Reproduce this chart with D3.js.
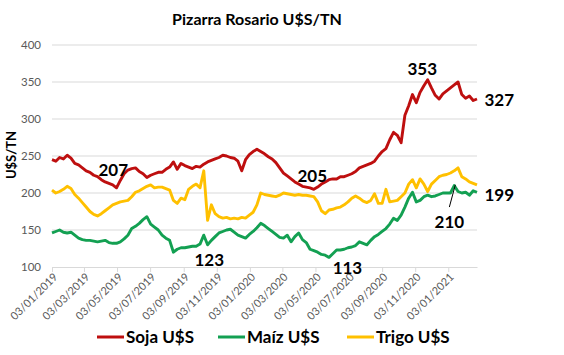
<!DOCTYPE html>
<html>
<head>
<meta charset="utf-8">
<script src="https://cdn.jsdelivr.net/npm/d3@7"></script>
<style>
  html, body { margin: 0; padding: 0; background: #fff; }
  svg { display: block; }
</style>
</head>
<body>
<svg id="chart" width="564" height="355"></svg>
<script>
// ---- data ----
const title = "Pizarra Rosario U$S/TN";
const yTitle = "U$S/TN";
const startDate = "2019-01-03";   // weekly observations
const endDate = "2021-02-25";
const xTickDates = ["2019-01-03","2019-03-03","2019-05-03","2019-07-03","2019-09-03","2019-11-03",
  "2020-01-03","2020-03-03","2020-05-03","2020-07-03","2020-09-03","2020-11-03","2021-01-03"];
const yTicks = [100, 150, 200, 250, 300, 350, 400];
const seriesNames = ["Soja U$S", "Maíz U$S", "Trigo U$S"];
const seriesColors = ["#BE0F0F", "#13A052", "#FFC000"];

const soja = [245,243,248,246,251,247,240,238,234,230,228,224,222,218,215,213,211,207,217,226,
  231,233,234,229,226,221,224,226,228,228,232,235,242,232,240,237,235,233,236,235,
  239,242,244,246,248,251,250,248,247,243,230,245,252,256,259,256,253,249,246,241,
  234,227,223,219,215,212,209,208,207,205,208,212,215,218,219,219,222,222,224,226,
  229,234,236,238,240,243,250,256,260,272,282,278,268,305,318,333,322,336,345,353,
  342,332,327,334,338,342,346,350,333,328,331,325,327];
const maiz = [146,148,150,147,146,147,143,139,137,136,136,135,134,135,136,133,132,132,134,138,
  143,152,155,159,164,168,158,154,150,143,139,136,120,124,126,126,127,128,128,131,
  143,130,136,141,146,148,150,151,147,143,141,139,144,148,153,159,156,152,148,144,
  140,139,143,134,141,146,137,133,124,122,120,117,116,113,118,123,123,124,126,127,
  129,134,132,130,136,141,144,148,152,158,166,163,170,181,193,201,188,190,195,197,
  195,196,198,200,200,200,210,202,200,201,197,203,201];
const trigo = [204,200,202,205,209,206,198,193,187,181,175,171,169,172,176,180,184,186,188,189,
  190,195,201,203,206,209,211,207,208,208,206,204,190,186,193,191,205,209,212,207,
  230,163,184,172,168,166,167,165,166,165,167,166,170,174,184,200,198,197,196,195,
  197,200,199,198,197,198,197,197,196,195,188,176,172,177,178,180,181,184,188,193,
  196,193,189,187,190,199,186,186,205,188,189,190,195,200,212,218,207,219,212,202,
  212,217,222,224,225,227,230,234,222,219,215,213,211];
const seriesValues = [soja, maiz, trigo];

// annotation labels (text, date, value at label centre)
const annotations = [
  { text: "207", date: "2019-04-26", value: 231 },
  { text: "123", date: "2019-10-20", value: 109.5 },
  { text: "205", date: "2020-04-27", value: 223 },
  { text: "113", date: "2020-07-01", value: 98.6 },
  { text: "353", date: "2020-11-16", value: 367.6 },
  { text: "327", date: "2021-04-07", value: 325.7 },
  { text: "199", date: "2021-04-07", value: 197.3 },
  { text: "210", date: "2021-01-05", value: 160.8 }
];
const leader = [{ date: "2021-01-05", value: 181 }, { date: "2021-01-16", value: 211 }];

// ---- chart ----
const parse = d3.timeParse("%Y-%m-%d");
const fmt = d3.timeFormat("%d/%m/%Y");
const start = parse(startDate);
const dates = d3.range(soja.length).map(i => d3.timeDay.offset(start, 7 * i));

const svg = d3.select("#chart");
const font = "Lato, 'Open Sans', sans-serif";

const x = d3.scaleTime().domain([start, parse(endDate)]).range([52, 477]);
const y = d3.scaleLinear().domain([100, 400]).range([267, 45]);

// title
svg.append("text")
  .attr("x", 257).attr("y", 25)
  .attr("text-anchor", "middle")
  .style("font-family", font).style("font-weight", "bold").style("font-size", "16px")
  .attr("fill", "#000")
  .text(title);

// gridlines
svg.append("g")
  .selectAll("line")
  .data(yTicks.filter(t => t > 100))
  .join("line")
  .attr("x1", x.range()[0]).attr("x2", x.range()[1])
  .attr("y1", d => y(d)).attr("y2", d => y(d))
  .attr("stroke", "#D9D9D9").attr("stroke-width", 1);

// y axis
const yAxis = svg.append("g")
  .attr("transform", `translate(${x.range()[0]},0)`)
  .call(d3.axisLeft(y).tickValues(yTicks).tickSize(0).tickPadding(11));
yAxis.select(".domain").remove();
yAxis.selectAll("text")
  .style("font-family", font).style("font-size", "11.5px").attr("fill", "#595959");

// y title
svg.append("text")
  .attr("transform", `translate(16,155) rotate(-90)`)
  .attr("text-anchor", "middle")
  .style("font-family", font).style("font-weight", "bold").style("font-size", "13px")
  .attr("fill", "#000")
  .text(yTitle);

// x axis
const xAxis = svg.append("g")
  .attr("transform", `translate(0,${y(100)})`)
  .call(d3.axisBottom(x).tickValues(xTickDates.map(parse)).tickFormat(fmt).tickSize(5).tickSizeOuter(0));
xAxis.select(".domain").attr("stroke", "#D9D9D9");
xAxis.selectAll(".tick line").attr("stroke", "#D9D9D9");
xAxis.selectAll("text")
  .style("font-family", font).style("font-size", "11px").attr("fill", "#595959")
  .attr("text-anchor", "end")
  .attr("dy", "0.35em")
  .attr("transform", "translate(3,8) rotate(-45)")
  .attr("y", 0);

// lines
const line = d3.line()
  .x((d, i) => x(dates[i]))
  .y(d => y(d));

svg.append("g")
  .selectAll("path")
  .data(seriesValues)
  .join("path")
  .attr("d", d => line(d))
  .attr("fill", "none")
  .attr("stroke", (d, i) => seriesColors[i])
  .attr("stroke-width", 2.9)
  .attr("stroke-linejoin", "round");

// leader line
svg.append("line")
  .attr("x1", x(parse(leader[0].date))).attr("y1", y(leader[0].value))
  .attr("x2", x(parse(leader[1].date))).attr("y2", y(leader[1].value))
  .attr("stroke", "#000").attr("stroke-width", 1);

// annotations
svg.append("g")
  .selectAll("text")
  .data(annotations)
  .join("text")
  .attr("x", d => x(parse(d.date)))
  .attr("y", d => y(d.value))
  .attr("dy", "0.36em")
  .attr("text-anchor", "middle")
  .style("font-family", font).style("font-weight", "bold").style("font-size", "17px")
  .attr("fill", "#000")
  .text(d => d.text);

// legend
const legendX = [97, 218, 347];
const legend = svg.append("g");
seriesNames.forEach((name, i) => {
  const g = legend.append("g").attr("transform", `translate(${legendX[i]},337)`);
  g.append("line").attr("x1", 0).attr("x2", 27).attr("y1", 0).attr("y2", 0)
    .attr("stroke", seriesColors[i]).attr("stroke-width", 3);
  g.append("text").attr("x", 29).attr("y", 0).attr("dy", "0.36em")
    .style("font-family", font).style("font-weight", "bold").style("font-size", "17px")
    .attr("fill", "#000").text(name);
});
</script>
</body>
</html>
